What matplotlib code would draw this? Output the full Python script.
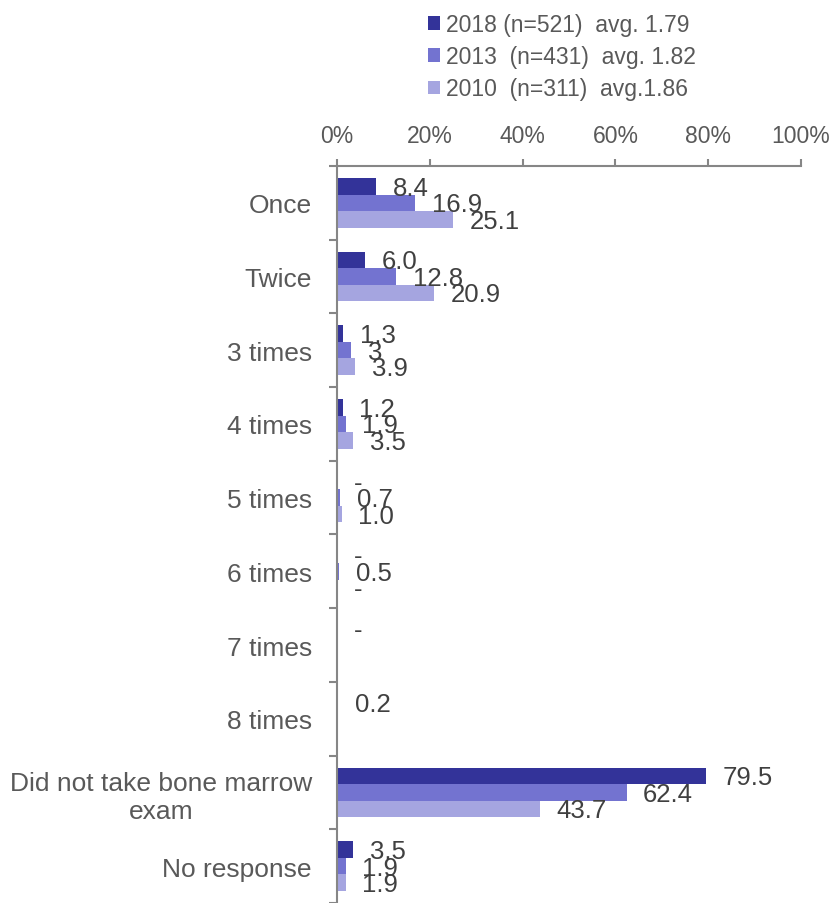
import numpy as np
import matplotlib
matplotlib.use("Agg")
from matplotlib import pyplot as plt
from matplotlib.ticker import FixedLocator, PercentFormatter

plt.rcParams['font.family'] = ['Liberation Sans', 'DejaVu Sans']

categories = ['Once', 'Twice', '3 times', '4 times', '5 times', '6 times',
              '7 times', '8 times', 'Did not take bone marrow\nexam', 'No response']

# 0 -> shown as "-", None -> no answer option that year
vals_2018 = [8.4, 6.0, 1.3, 1.2, 0, 0, 0, 0.2, 79.5, 3.5]
vals_2013 = [16.9, 12.8, 3, 1.9, 0.7, 0.5, None, None, 62.4, 1.9]
vals_2010 = [25.1, 20.9, 3.9, 3.5, 1.0, 0, None, None, 43.7, 1.9]

series_labels = ['2018 (n=521)  avg. 1.79', '2013  (n=431)  avg. 1.82', '2010  (n=311)  avg.1.86']
series_colors = ['#333399', '#7373D0', '#A5A5E0']

axis_gray = '#868686'
label_gray = '#595959'
value_gray = '#404040'


def fmt_value(v):
    if v == 0:
        return '-'
    if isinstance(v, int):
        return str(v)
    return f'{v:.1f}'


fig = plt.figure(figsize=(8.37, 9.04), dpi=100)
ax = fig.add_axes([0.4026, 0.0, 0.957 - 0.4026, 0.8153])

y = np.arange(len(categories))
bar_h = 0.224
offsets = [-bar_h, 0.0, bar_h]
handles = []
for vals, off, color, name in zip([vals_2018, vals_2013, vals_2010], offsets,
                                  series_colors, series_labels):
    widths = [v if v is not None else 0 for v in vals]
    bars = ax.barh(y + off, widths, height=bar_h, color=color, label=name)
    handles.append(bars)
    for yi, v in zip(y, vals):
        if v is None:
            continue
        ax.annotate(fmt_value(v), xy=(v, yi + off), xytext=(12, -1),
                    textcoords='offset points', ha='left', va='center',
                    fontsize=18.5, color=value_gray)

ax.set_xlim(0, 100)
ax.set_ylim(len(categories) - 0.5, -0.5)

# percent axis sits on top
ax.xaxis.tick_top()
ax.set_xticks(np.arange(0, 101, 20))
ax.xaxis.set_major_formatter(PercentFormatter(decimals=0))
ax.tick_params(axis='x', which='major', direction='out', length=5, width=1.5,
               color=axis_gray, labelsize=16.5, labelcolor=label_gray, pad=9)

# category labels between boundary ticks
ax.set_yticks(y)
ax.set_yticklabels(categories)
ax.yaxis.set_minor_locator(FixedLocator(np.arange(-0.5, len(categories), 1.0)))
ax.tick_params(axis='y', which='major', length=0, labelsize=19,
               labelcolor=label_gray, pad=18)
ax.tick_params(axis='y', which='minor', direction='out', length=6, width=1.5,
               color=axis_gray)
for lbl in ax.get_yticklabels():
    lbl.set_multialignment('center')

for side in ['right', 'bottom']:
    ax.spines[side].set_visible(False)
for side in ['top', 'left']:
    ax.spines[side].set_color(axis_gray)
    ax.spines[side].set_linewidth(1.5)

leg = fig.legend(handles=handles, loc='upper left', bbox_to_anchor=(428 / 837, 1 - 14 / 904),
                 frameon=False, fontsize=16.5, handlelength=0.52, handleheight=0.52,
                 handletextpad=0.25, labelspacing=0.4, borderpad=0, borderaxespad=0)
for t in leg.get_texts():
    t.set_color(label_gray)

fig.savefig('out.png', dpi=100)
